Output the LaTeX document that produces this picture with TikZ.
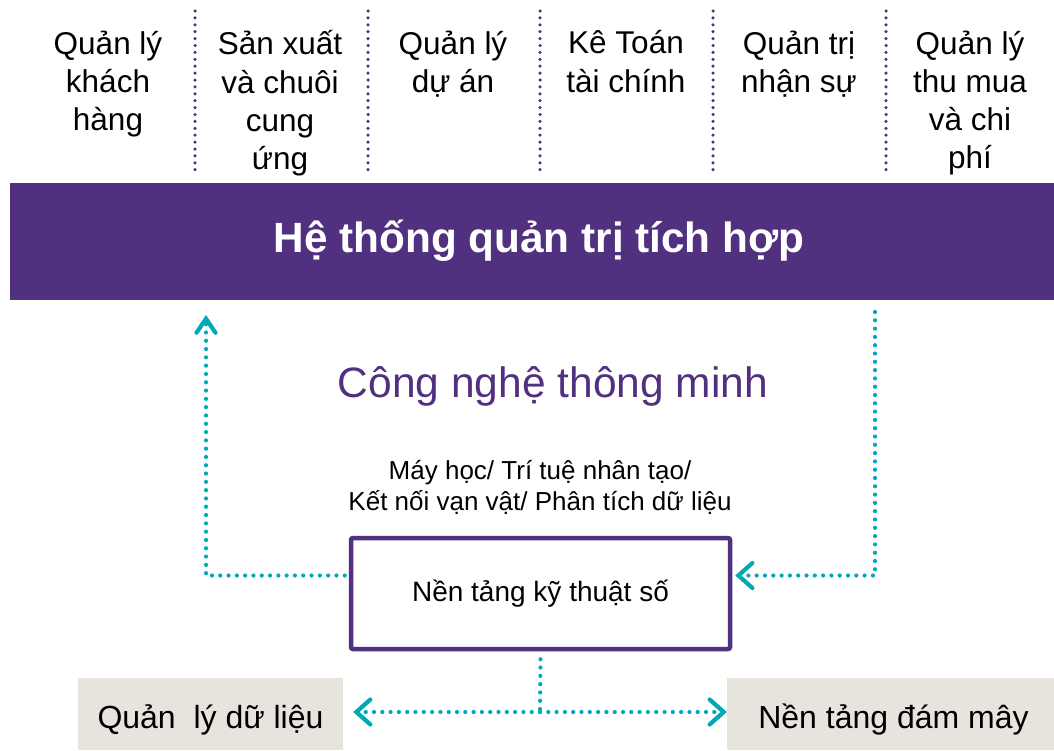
\documentclass[tikz,border=0pt]{standalone}
\usepackage{fontspec}
\setmainfont{Liberation Sans}
\usetikzlibrary{arrows.meta}
\definecolor{pur}{HTML}{51307F}
\definecolor{teal}{HTML}{00A9B7}
\definecolor{graybox}{HTML}{E7E4DE}
\tikzset{
  col/.style={align=center, font=\fontsize{31.5}{38.2}\selectfont, anchor=north, inner sep=0pt},
  sep/.style={draw=pur, line width=3.5pt, line cap=round, dash pattern=on 0pt off 6.9pt},
  tdot/.style={draw=teal, line width=4.2pt, line cap=round, dash pattern=on 0pt off 8.3pt},
  barb/.style={-{Straight Barb[length=14pt,width=25pt,line cap=round]}},
  barbup/.style={-{Straight Barb[length=14pt,width=19pt,line cap=round]}},
  gbox/.style={fill=graybox, minimum height=72pt, inner sep=0pt},
  gtext/.style={font=\fontsize{32}{36}\selectfont, inner sep=0pt},
}
\begin{document}
\begin{tikzpicture}[x=1pt,y=-1pt]
\useasboundingbox (0,0) rectangle (1054,750);
% top columns
\node[col] (c1) at (108,30.5) {Quản lý\\khách\\hàng};
\node[col] (c2) at (280,30.5) {Sản xuất\\và chuôi\\cung\\ứng};
\node[col] (c3) at (453,30.5) {Quản lý\\dự án};
\node[col] (c4) at (626,30.5) {Kê Toán\\tài chính};
\node[col] (c5) at (799,30.5) {Quản trị\\nhận sự};
\node[col] (c6) at (970,30.5) {Quản lý\\thu mua\\và chi\\phí};
\foreach \x in {195,368,540,713,886} \draw[sep] (\x,11) -- (\x,176);
% bar
\node[fill=pur, minimum width=1044pt, minimum height=117pt, inner sep=0pt] (bar) at (532,241.5) {};
\node[text=white, inner sep=0pt, font=\fontsize{42.3}{46}\selectfont\bfseries] (title) at (539,241) {Hệ thống quản trị tích hợp};
% middle
\node[text=pur, font=\fontsize{42.5}{46}\selectfont] (cn) at (553,386) {Công nghệ thông minh};
\node[align=center, font=\fontsize{26}{31}\selectfont] (tech) at (540,487) {Máy học/ Trí tuệ nhân tạo/\\Kết nối vạn vật/ Phân tích dữ liệu};
\node[draw=pur, line width=4.5pt, rounded corners=2pt, minimum width=379pt, minimum height=111pt,
  inner sep=0pt, font=\fontsize{28}{32}\selectfont] (box) at (540.5,593.5) {Nền tảng kỹ thuật số};
% bottom boxes
\node[gbox, minimum width=265pt] (dl) at (210.5,714) {};
\node[gbox, minimum width=327pt] (dr) at (890.5,714) {};
\node[gtext] (dlt) at (210.5,720) {Quản\ \ lý dữ liệu};
\node[gtext] (drt) at (893.5,720) {Nền tảng đám mây};
% connectors
\coordinate (lt) at (206,315);
\coordinate (rt) at (875,312);
\coordinate (bj) at (540,712);
\draw[tdot, barbup] ([xshift=-4pt,yshift=18pt]box.west) -| (lt);
\draw[tdot, barb] (rt) |- ([xshift=3pt,yshift=18pt]box.east);
\draw[tdot] ([yshift=-8pt]box.south) -- (bj);
\draw[tdot, barb] (bj) -- ([xshift=10pt]dl.east |- bj);
\draw[tdot, barb] (bj) -- (dr.west |- bj);
\end{tikzpicture}
\end{document}
